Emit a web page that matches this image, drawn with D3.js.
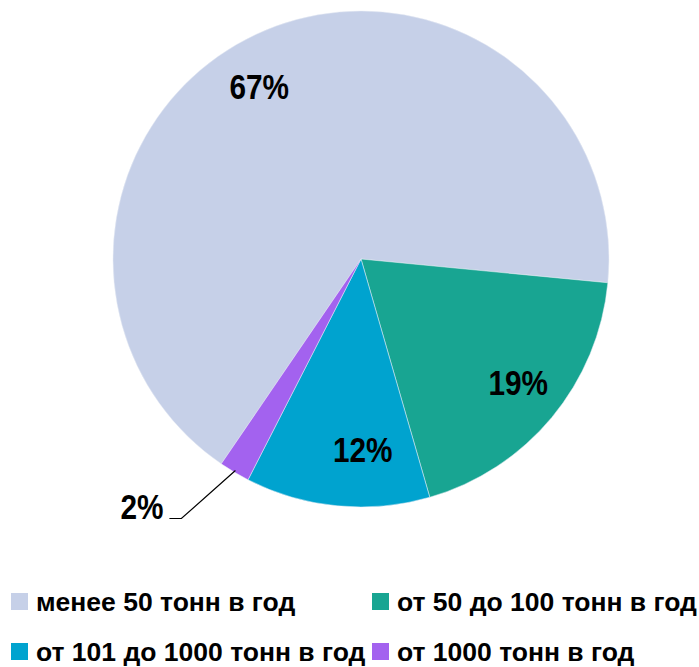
<!DOCTYPE html>
<html>
<head>
<meta charset="utf-8">
<script src="https://cdn.jsdelivr.net/npm/d3@7"></script>
<style>
  body { margin: 0; background: #fff; }
  svg text { font-family: "Liberation Sans Narrow", "Arial Narrow", "Liberation Sans", Arial, sans-serif; font-weight: bold; }
</style>
</head>
<body>
<svg id="pieChart" width="699" height="667"></svg>
<script>
// data
const categories = ["менее 50 тонн в год", "от 50 до 100 тонн в год", "от 101 до 1000 тонн в год", "от 1000 тонн в год"];
const shares = [67, 19, 12, 2];
const percentLabels = ["67%", "19%", "12%", "2%"];
const colors = ["#c6d0e8", "#18a592", "#00a3cf", "#a362ef"];

const width = 699;
const height = 667;
const radius = 248;
const cx = 361, cy = 259;
const deg = Math.PI / 180;
const squeeze = 0.85; // percent labels look condensed

const svg = d3.select("#pieChart");
svg.selectAll("*").remove();

const g = svg.append("g")
  .attr("transform", `translate(${cx}, ${cy})`);

const color = d3.scaleOrdinal()
  .domain(categories)
  .range(colors);

// first slice is placed so the teal one starts just below 3 o'clock
const start = -145.7 * deg;
const pie = d3.pie().sort(null).value((d) => d.value)
  .startAngle(start).endAngle(start + 2 * Math.PI);
const arc = d3.arc().innerRadius(0).outerRadius(radius);

const chartData = categories.map((c, i) => ({ label: c, value: shares[i], text: percentLabels[i] }));
const arcs = pie(chartData);

g.selectAll("path.slice")
  .data(arcs)
  .enter()
  .append("path")
  .attr("class", "slice")
  .attr("d", arc)
  .attr("fill", (d) => color(d.data.label))
  .attr("stroke", "#e8ecf5")
  .attr("stroke-width", 0.5);

// inside labels (Excel nudges them a bit)
const nudge = [-5.5, -1.5, -6];
const labelR = [200, 200, 190];
arcs.slice(0, 3).forEach((d, i) => {
  const a = (d.startAngle + d.endAngle) / 2 + nudge[i] * deg;
  const x = Math.sin(a) * labelR[i];
  const y = -Math.cos(a) * labelR[i];
  g.append("text")
    .attr("transform", `translate(${x}, ${y}) scale(${squeeze}, 1)`)
    .attr("dy", "0.36em")
    .attr("text-anchor", "middle")
    .attr("font-size", "35px")
    .attr("fill", "#000")
    .text(d.data.text);
});

// small slice: label outside with a leader line
const small = arcs[3];
const midA = (small.startAngle + small.endAngle) / 2;
const p0 = [Math.sin(midA) * (radius - 2), -Math.cos(midA) * (radius - 2)];
const p1 = [p0[0] - 54, p0[1] + 48];
const p2 = [p1[0] - 12, p1[1]];
g.append("polyline")
  .attr("points", [p0, p1, p2].map((p) => p.join(",")).join(" "))
  .attr("fill", "none")
  .attr("stroke", "#000")
  .attr("stroke-width", 1.2);
g.append("text")
  .attr("transform", `translate(${p2[0] - 6}, ${p2[1]}) scale(${squeeze}, 1)`)
  .attr("text-anchor", "end")
  .attr("font-size", "35px")
  .attr("fill", "#000")
  .text(small.data.text);

// legend, two columns
const legendX = d3.scaleOrdinal().domain([0, 1]).range([11, 372]);
const legendY = d3.scaleOrdinal().domain([0, 1]).range([611, 661]);
const legend = svg.selectAll("g.legend")
  .data(categories)
  .enter()
  .append("g")
  .attr("class", "legend")
  .attr("transform", (d, i) => `translate(${legendX(i % 2)}, ${legendY(Math.floor(i / 2))})`);

legend.append("rect")
  .attr("x", 0)
  .attr("y", -18)
  .attr("width", 17)
  .attr("height", 17)
  .attr("fill", (d) => color(d));

legend.append("text")
  .attr("x", 25)
  .attr("y", 0)
  .attr("font-size", "26.5px")
  .attr("fill", "#000")
  .text((d) => d);
</script>
</body>
</html>
